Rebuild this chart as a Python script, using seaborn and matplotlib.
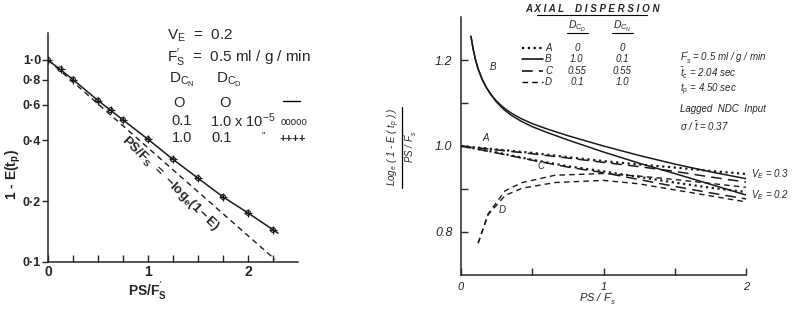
import matplotlib.pyplot as plt
import seaborn as sns
from matplotlib.lines import Line2D
from matplotlib.ticker import NullLocator

sns.set_style('ticks')
plt.rcParams['font.family'] = ['Liberation Sans', 'DejaVu Sans']
plt.rcParams['mathtext.fontset'] = 'custom'
plt.rcParams['mathtext.rm'] = 'Liberation Sans'
plt.rcParams['mathtext.it'] = 'Liberation Sans:italic'
plt.rcParams['mathtext.bf'] = 'Liberation Sans:bold'

# ---- left panel data: 1 - E(tp) vs PS/F's (log scale) ----
ps_solid = [0, 0.25, 0.5, 0.75, 1.0, 1.25, 1.5, 1.75, 2.0, 2.3]
e_solid = [1.0, 0.80, 0.63, 0.505, 0.405, 0.322, 0.26, 0.21, 0.175, 0.139]
ps_pts = [0, 0.125, 0.25, 0.5, 0.625, 0.75, 1.0, 1.25, 1.5, 1.75, 2.0, 2.25]
e_pts = [1.0, 0.90, 0.80, 0.63, 0.565, 0.505, 0.405, 0.322, 0.26, 0.21, 0.175, 0.144]
ps_dash = [0, 2.27]
e_dash = [1.0, 0.103]

# ---- right panel data: loge(1-E)/(PS/F's) vs PS/F's ----
x_ac = [0, 0.25, 0.5, 0.75, 1.0, 1.25, 1.5, 1.75, 2.0]
a_03 = [1.0, 0.992, 0.984, 0.974, 0.965, 0.957, 0.950, 0.942, 0.935]
a_02 = [1.0, 0.985, 0.968, 0.953, 0.941, 0.928, 0.915, 0.903, 0.893]
c_03 = [1.0, 0.991, 0.982, 0.972, 0.962, 0.952, 0.941, 0.928, 0.916]
c_02 = [1.0, 0.984, 0.967, 0.951, 0.938, 0.922, 0.906, 0.891, 0.877]
x_b = [0.07, 0.085, 0.1, 0.12, 0.15, 0.18, 0.21, 0.25, 0.3, 0.35, 0.42, 0.5,
       0.6, 0.75, 1.0, 1.25, 1.5, 1.75, 2.0]
b_03 = [1.255, 1.226, 1.203, 1.179, 1.154, 1.135, 1.120, 1.104, 1.089, 1.077,
        1.064, 1.052, 1.040, 1.024, 1.000, 0.978, 0.958, 0.940, 0.924]
b_02 = [1.255, 1.226, 1.203, 1.179, 1.154, 1.135, 1.119, 1.102, 1.085, 1.072,
        1.058, 1.045, 1.032, 1.014, 0.986, 0.960, 0.936, 0.911, 0.886]
x_d = [0.12, 0.19, 0.31, 0.43, 0.66, 1.0, 1.25, 1.5, 1.75, 2.0]
d_03 = [0.774, 0.842, 0.896, 0.915, 0.932, 0.936, 0.930, 0.922, 0.913, 0.904]
d_02 = [0.774, 0.840, 0.885, 0.902, 0.915, 0.920, 0.912, 0.898, 0.884, 0.870]

W, H = 800, 311
fig = plt.figure(figsize=(8, 3.11), dpi=100)


def box(x0, y0, w, h):
    return [x0 / W, 1 - (y0 + h) / H, w / W, h / H]


def ftext(x, y, s, **kw):
    fig.text(x / W, 1 - y / H, s, **kw)


def fline(x0, x1, y0, y1, **kw):
    fig.add_artist(Line2D([x0 / W, x1 / W], [1 - y0 / H, 1 - y1 / H],
                          transform=fig.transFigure, color='k', **kw))


ink = '#1a1a1a'

# ================= left panel =================
axl = fig.add_axes(box(48, 33, 250, 229))
sns.lineplot(x=ps_solid, y=e_solid, ax=axl, color=ink, lw=1.1, sort=False)
sns.lineplot(x=ps_dash, y=e_dash, ax=axl, color=ink, lw=1.0, linestyle=(0, (4, 3)))
sns.scatterplot(x=ps_pts, y=e_pts, ax=axl, marker='o', s=12, facecolor='none',
                edgecolor=ink, linewidth=0.8, zorder=3)
sns.scatterplot(x=ps_pts, y=e_pts, ax=axl, marker='+', s=34, color=ink,
                linewidth=0.9, zorder=3)
axl.set_yscale('log')
axl.set_xlim(0, 2.5)
axl.set_ylim(0.1, 1.36)
axl.set_xticks([0, 0.25, 0.5, 0.75, 1.0, 1.25, 1.5, 1.75, 2.0, 2.25],
               ['0', '', '', '', '1', '', '', '', '2', ''])
axl.set_yticks([0.1, 0.2, 0.4, 0.6, 0.8, 1.0],
               ['0·1', '0·2', '0·4', '0·6', '0·8', '1·0'])
axl.yaxis.set_minor_locator(NullLocator())
axl.tick_params(axis='x', direction='in', length=5, width=1, pad=2, labelsize=10)
axl.tick_params(axis='y', direction='out', length=4, width=1, pad=1, labelsize=9)
for lab in axl.get_xticklabels() + axl.get_yticklabels():
    lab.set_fontweight('bold')
sns.despine(ax=axl)
for sp in axl.spines.values():
    sp.set_linewidth(1.1)
axl.set_xlabel('')
axl.set_ylabel('')

axl.text(1.22, 0.245, r'$\mathbf{PS/F_S}$  =  $\mathbf{-log_e(1-E)}$', rotation=-44,
         ha='center', va='center', fontsize=9.5, fontweight='bold')

ftext(148, 291, r"PS/F$_{\mathbf{S}}^{\mathbf{'}}$", ha='center', va='center',
      fontsize=10, fontweight='bold')
ftext(13, 175, r'1 - E(t$_{\mathbf{p}}$)', ha='center', va='center', rotation=90,
      fontsize=10, fontweight='bold')

big = dict(fontsize=11, va='center')
row = dict(fontsize=10.5, va='center')
ftext(167, 36, r'V$_{\mathrm{E}}$  =  0.2', **big)
ftext(167, 58, r"F$_{\mathrm{S}}^{\prime}$  =  0.5 ml / g / min", **big)
ftext(169, 80, r'D$_{\mathrm{C_N}}$', **big)
ftext(216, 80, r'D$_{\mathrm{C_D}}$', **big)
ftext(179, 103, 'O', ha='center', **row)
ftext(225, 103, 'O', ha='center', **row)
fline(283, 300, 101, 101, lw=1.0)
ftext(182, 121, '0.1', ha='center', **row)
ftext(210, 121, r'1.0 x 10$^{-5}$', **row)
ftext(281, 122, 'ooooo', fontsize=7, va='center')
ftext(182, 138, '1.0', ha='center', **row)
ftext(211, 138, '0.1', **row)
ftext(262, 137, '"', fontsize=7, va='center')
ftext(280, 139, '++++', fontsize=8, va='center', fontweight='bold')

# ================= right panel =================
axr = fig.add_axes(box(461, 17, 285, 258))
sns.lineplot(x=x_ac, y=a_03, ax=axr, color=ink, lw=1.6, linestyle=(0, (1, 1.6)))
sns.lineplot(x=x_ac, y=a_02, ax=axr, color=ink, lw=1.6, linestyle=(0, (1, 1.6)))
sns.lineplot(x=x_b, y=b_03, ax=axr, color=ink, lw=1.1)
sns.lineplot(x=x_b, y=b_02, ax=axr, color=ink, lw=1.1)
sns.lineplot(x=x_ac, y=c_03, ax=axr, color=ink, lw=1.1, linestyle=(0, (7, 4)))
sns.lineplot(x=x_ac, y=c_02, ax=axr, color=ink, lw=1.1, linestyle=(0, (7, 4)))
sns.lineplot(x=x_d, y=d_03, ax=axr, color=ink, lw=1.0, linestyle=(0, (4, 3)))
sns.lineplot(x=x_d, y=d_02, ax=axr, color=ink, lw=1.0, linestyle=(0, (4, 3)))
axr.set_xlim(0, 2)
axr.set_ylim(0.7, 1.3)
axr.set_xticks([0, 0.5, 1, 1.5, 2], ['0', '', '1', '', '2'])
axr.set_yticks([0.8, 0.9, 1.0, 1.1, 1.2], ['0.8', '', '1.0', '', '1.2'])
axr.tick_params(axis='x', direction='in', length=5, width=1, pad=5, labelsize=8)
axr.tick_params(axis='y', direction='in', length=5, width=1, pad=6, labelsize=9)
for lab in axr.get_xticklabels() + axr.get_yticklabels():
    lab.set_fontstyle('italic')
sns.despine(ax=axr)
for sp in axr.spines.values():
    sp.set_linewidth(1.1)
axr.set_xlabel('')
axr.set_ylabel('')

it = dict(fontstyle='italic', va='center', fontsize=7)
ftext(597, 299, r"PS / F$_s^{\prime}$", ha='center', fontstyle='italic', va='center', fontsize=8)
ftext(394, 147, r'Log$_e$ ( 1 - E ( t$_p$ ) )', ha='center', rotation=90, **it)
fline(402, 402, 107, 188, lw=0.9)
ftext(411, 147, r"PS / F$_s^{\prime}$", ha='center', rotation=90, **it)

ftext(592, 9, 'A X I A L    D I S P E R S I O N', ha='center', fontweight='bold', **it)
fline(537, 647, 15, 15, lw=0.8)
ftext(577, 26, r'D$_{C_D}$', ha='center', fontsize=7.5, fontstyle='italic', va='center')
ftext(622, 26, r'D$_{C_N}$', ha='center', fontsize=7.5, fontstyle='italic', va='center')
fline(567, 588, 33, 33, lw=0.8)
fline(612, 633, 33, 33, lw=0.8)

rows_y = [48, 59, 71, 82]
letters = ['A', 'B', 'C', 'D']
col_cd = ['0', '1.0', '0.55', '0.1']
col_cn = ['0', '0.1', '0.55', '1.0']
styles = [dict(lw=1.6, linestyle=(0, (1, 1.6))), dict(lw=1.1),
          dict(lw=1.1, linestyle=(0, (7, 4))), dict(lw=1.0, linestyle=(0, (4, 3)))]
for ry, lt, v1, v2, st in zip(rows_y, letters, col_cd, col_cn, styles):
    fline(522, 543, ry, ry, **st)
    ftext(545, ry, lt, **it)
    ftext(577, ry, v1, ha='center', **it)
    ftext(622, ry, v2, ha='center', **it)

ftext(680, 58, r"F$_s^{\prime}$ = 0.5 ml / g / min", **it)
ftext(680, 73, r"$\bar{t}_c$ = 2.04 sec", **it)
ftext(680, 90, r"t$_p$ = 4.50 sec", **it)
ftext(680, 109, 'Lagged  NDC  Input', **it)
ftext(680, 126, r"$\sigma$ / $\bar{t}$ = 0.37", **it)

ftext(482, 138, 'A', **it)
ftext(490, 67, 'B', **it)
ftext(537, 166, 'C', **it)
ftext(499, 210, 'D', **it)
ftext(751, 174, r'V$_E$ = 0.3', **it)
ftext(751, 195, r'V$_E$ = 0.2', **it)

fig.savefig('out.png', dpi=100)
